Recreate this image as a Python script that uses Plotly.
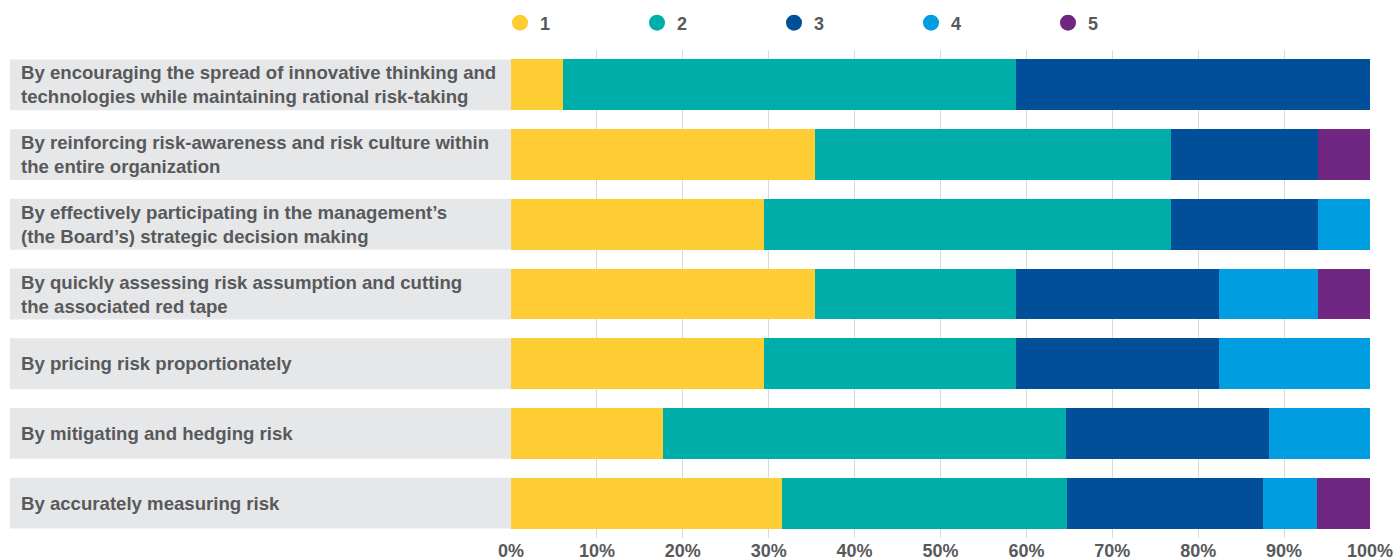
import plotly.graph_objects as go

# Survey statements (top to bottom)
statements = [
    "By encouraging the spread of innovative thinking and<br>technologies while maintaining rational risk-taking",
    "By reinforcing risk-awareness and risk culture within<br>the entire organization",
    "By effectively participating in the management’s<br>(the Board’s) strategic decision making",
    "By quickly assessing risk assumption and cutting<br>the associated red tape",
    "By pricing risk proportionately",
    "By mitigating and hedging risk",
    "By accurately measuring risk",
]

# Share of answers per rank (percent of respondents)
rank_1 = [6.1, 35.4, 29.5, 35.4, 29.5, 17.7, 31.5]
rank_2 = [52.7, 41.4, 47.3, 23.4, 29.3, 46.9, 33.2]
rank_3 = [41.2, 17.1, 17.1, 23.6, 23.6, 23.6, 22.9]
rank_4 = [0.0, 0.0, 6.1, 11.6, 17.6, 11.8, 6.2]
rank_5 = [0.0, 6.1, 0.0, 6.0, 0.0, 0.0, 6.2]

rank_names = ["1", "2", "3", "4", "5"]
rank_colors = ["#FECD33", "#00AEA9", "#004F98", "#009EE0", "#702782"]
x_ticks = [0, 10, 20, 30, 40, 50, 60, 70, 80, 90, 100]
x_tick_labels = [f"{v}%" for v in x_ticks]

text_color = "#58595B"
band_color = "#E6E7E8"
font_family = "Liberation Sans, Arial, sans-serif"

W, H = 1395, 560
m_l, m_r, m_t, m_b = 511, 25, 50, 22
plot_w = W - m_l - m_r

fig = go.Figure()

series = [rank_1, rank_2, rank_3, rank_4, rank_5]
for name, vals, col in zip(rank_names, series, rank_colors):
    fig.add_trace(go.Bar(
        y=statements, x=vals, orientation="h", name=name,
        marker=dict(color=col, line=dict(width=0)),
        showlegend=False, hoverinfo="x+y",
    ))
    # round legend marker for the same rank
    fig.add_trace(go.Scatter(
        x=[None], y=[None], mode="markers", name=name,
        marker=dict(color=col, size=18, symbol="circle"),
        showlegend=True,
    ))

bar_half = 0.365
shapes = []
annotations = []
for i, label in enumerate(statements):
    shapes.append(dict(
        type="rect", xref="paper", yref="y",
        x0=(10 - m_l) / plot_w, x1=0,
        y0=i - bar_half, y1=i + bar_half,
        fillcolor=band_color, line=dict(width=0), layer="below",
    ))
    annotations.append(dict(
        xref="paper", yref="y", x=(19 - m_l) / plot_w, y=label,
        text=label, showarrow=False, xanchor="left", yanchor="middle",
        align="left",
        font=dict(family=font_family, size=18.6, color=text_color, weight="bold"),
    ))

fig.update_layout(
    width=W, height=H, autosize=False,
    margin=dict(l=m_l, r=m_r, t=m_t, b=m_b, pad=0),
    barmode="stack", bargap=0.27,
    plot_bgcolor="white", paper_bgcolor="white",
    font=dict(family=font_family, color=text_color),
    shapes=shapes, annotations=annotations,
    legend=dict(
        orientation="h", traceorder="normal",
        xref="container", x=500 / W, xanchor="left",
        yref="container", y=1 - 23 / H, yanchor="middle",
        entrywidth=92, entrywidthmode="pixels",
        font=dict(family=font_family, size=18, color=text_color, weight="bold"),
        bgcolor="rgba(0,0,0,0)", itemclick=False, itemdoubleclick=False,
    ),
    xaxis=dict(
        range=[0, 100], tickvals=x_ticks, ticktext=x_tick_labels,
        showgrid=True, gridcolor="#D9D9D9", gridwidth=1,
        zeroline=False, showline=False, ticks="", automargin=False,
        tickfont=dict(family=font_family, size=18, color=text_color, weight="bold"),
        fixedrange=True,
    ),
    yaxis=dict(
        autorange="reversed", showticklabels=False, showgrid=False,
        zeroline=False, showline=False, ticks="", fixedrange=True,
        automargin=False,
    ),
)

fig.write_html("out.html")
